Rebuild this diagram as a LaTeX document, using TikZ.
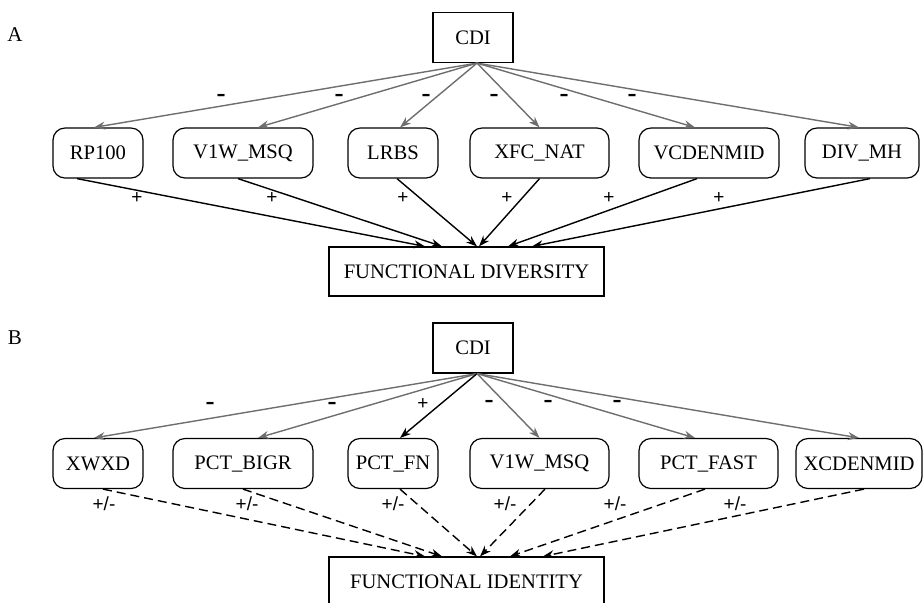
\documentclass[tikz,border=0pt]{standalone}
\usepackage{fontspec}
\setmainfont{Liberation Serif}
\setsansfont{Liberation Sans}
\newfontfamily\dashfont[Ligatures=TeX]{DejaVu Sans}
\usepackage{xcolor}
\usepackage{tikz}
\usetikzlibrary{arrows.meta}
\definecolor{edgegray}{RGB}{110,110,110}
\tikzset{
  var/.style={draw,rounded corners=6pt,minimum height=25pt,inner sep=0pt,line width=0.6pt,font=\fontsize{10.3}{12}\selectfont},
  box/.style={draw,minimum height=25pt,inner sep=0pt,line width=0.6pt,font=\fontsize{10.3}{12}\selectfont},
  negedge/.style={edgegray,line width=0.7pt,-{Stealth[length=5.5pt,width=4pt,inset=1.8pt]}},
  posedge/.style={black,line width=0.7pt,-{Stealth[length=5.5pt,width=4pt,inset=1.8pt]}},
  mixedge/.style={posedge,dash pattern=on 4.5pt off 2.5pt},
  sign/.style={font=\sffamily\fontsize{9.5}{10}\selectfont,inner sep=0pt},
  minus/.style={font=\dashfont\bfseries\fontsize{9}{10}\selectfont,inner sep=0pt},
  panel/.style={font=\fontsize{10.5}{12}\selectfont,inner sep=0pt}
}
\begin{document}
\begin{tikzpicture}[x=0.5pt,y=-0.5pt]
\useasboundingbox (0,0) rectangle (924,602);
\clip (0,0) rectangle (924,602);
% panel A
\node[panel] (labA) at (15,35) {A};
\node[box,minimum width=40pt] (CDIa) at (473,37.5) {CDI};
\node[var,minimum width=45pt] (RP) at (98,153) {RP100};
\node[var,minimum width=70pt] (VWa) at (243,153) {V1W\_MSQ};
\node[var,minimum width=45pt] (LRBS) at (393,153) {LRBS};
\node[var,minimum width=69.5pt] (XFC) at (539.5,153) {XFC\_NAT};
\node[var,minimum width=70pt] (VCD) at (709,153) {VCDENMID};
\node[var,minimum width=57pt] (DIV) at (862,153) {DIV\_MH};
\node[box,minimum width=137.5pt,minimum height=24.5pt] (FD) at (466.5,271.5) {FUNCTIONAL DIVERSITY};
\draw[negedge] ([xshift=2pt]CDIa.south)--([xshift=-2pt]RP.north);
\draw[negedge] ([xshift=2pt]CDIa.south)--([xshift=7.5pt]VWa.north);
\draw[negedge] ([xshift=2pt]CDIa.south)--([xshift=3.5pt]LRBS.north);
\draw[negedge] ([xshift=2pt]CDIa.south)--(XFC.north);
\draw[negedge] ([xshift=2pt]CDIa.south)--([xshift=-7pt]VCD.north);
\draw[negedge] ([xshift=2pt]CDIa.south)--([xshift=-1.5pt]DIV.north);
\draw[posedge] ([xshift=-10.5pt]RP.south)--([xshift=-20.75pt]FD.north);
\draw[posedge] ([xshift=-2.5pt]VWa.south)--([xshift=-12.25pt]FD.north);
\draw[posedge] ([xshift=2pt]LRBS.south)--([xshift=5.25pt]FD.north);
\draw[posedge] (XFC.south)--([xshift=6.25pt]FD.north);
\draw[posedge] ([xshift=-6pt]VCD.south)--([xshift=20.75pt]FD.north);
\draw[posedge] ([xshift=4pt]DIV.south)--([xshift=32.75pt]FD.north);
\node[minus] (mA1) at (221,97) {--};
\node[minus] (mA2) at (339,97) {--};
\node[minus] (mA3) at (426,97) {--};
\node[minus] (mA4) at (494,97) {--};
\node[minus] (mA5) at (564,97) {--};
\node[minus] (mA6) at (632,97) {--};
\node[sign] (pA1) at (137,198) {+};
\node[sign] (pA2) at (272,198) {+};
\node[sign] (pA3) at (403,198) {+};
\node[sign] (pA4) at (507,198) {+};
\node[sign] (pA5) at (609,198) {+};
\node[sign] (pA6) at (719,198) {+};
% panel B
\node[panel] (labB) at (15,338) {B};
\node[box,minimum width=40pt] (CDIb) at (473,348) {CDI};
\node[var,minimum width=45pt] (XWXD) at (98,463.5) {XWXD};
\node[var,minimum width=70pt] (BIGR) at (243,463.5) {PCT\_BIGR};
\node[var,minimum width=45pt] (FN) at (393,463.5) {PCT\_FN};
\node[var,minimum width=69.5pt] (VWb) at (539.5,463.5) {V1W\_MSQ};
\node[var,minimum width=69.5pt] (FAST) at (708.5,463.5) {PCT\_FAST};
\node[var,minimum width=63pt] (XCD) at (859,463.5) {XCDENMID};
\node[box,minimum width=137.5pt,minimum height=24.5pt] (FI) at (466.5,581.5) {FUNCTIONAL IDENTITY};
\draw[negedge] ([xshift=2pt]CDIb.south)--([xshift=-2pt]XWXD.north);
\draw[negedge] ([xshift=2pt]CDIb.south)--([xshift=7.5pt]BIGR.north);
\draw[posedge] ([xshift=2pt]CDIb.south)--([xshift=3.5pt]FN.north);
\draw[negedge] ([xshift=2pt]CDIb.south)--(VWb.north);
\draw[negedge] ([xshift=2pt]CDIb.south)--([xshift=-6.75pt]FAST.north);
\draw[negedge] ([xshift=2pt]CDIb.south)--(XCD.north);
\draw[mixedge] ([xshift=2.5pt]XWXD.south)--([xshift=-20.75pt]FI.north);
\draw[mixedge] (BIGR.south)--([xshift=-12.25pt]FI.north);
\draw[mixedge] ([xshift=3.5pt]FN.south)--([xshift=5.25pt]FI.north);
\draw[mixedge] ([xshift=2.75pt]VWb.south)--([xshift=6.75pt]FI.north);
\draw[mixedge] ([xshift=-1.75pt]FAST.south)--([xshift=21.75pt]FI.north);
\draw[mixedge] ([xshift=2.5pt]XCD.south)--([xshift=38.25pt]FI.north);
\node[minus] (mB1) at (210,405) {--};
\node[minus] (mB2) at (332,405) {--};
\node[sign] (pB3) at (423,404) {+};
\node[minus] (mB4) at (489,403) {--};
\node[minus] (mB5) at (548,403) {--};
\node[minus] (mB6) at (617,403) {--};
\node[sign] (xB1) at (104,504) {+/-};
\node[sign] (xB2) at (247,504) {+/-};
\node[sign] (xB3) at (393,504) {+/-};
\node[sign] (xB4) at (505,504) {+/-};
\node[sign] (xB5) at (615,504) {+/-};
\node[sign] (xB6) at (735,504) {+/-};
\end{tikzpicture}
\end{document}
